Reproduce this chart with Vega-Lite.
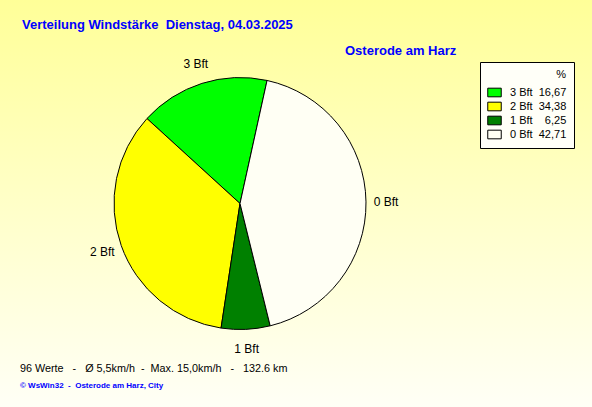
{
  "$schema": "https://vega.github.io/schema/vega-lite/v6.json",
  "padding": 0,
  "background": "#FFFFCA",
  "spacing": 0,
  "title": {
    "text": "Verteilung Windstärke\u00a0\u00a0Dienstag, 04.03.2025",
    "anchor": "start", "frame": "group", "orient": "top", "offset": 0, "dx": 22, "dy": 32,
    "font": "Liberation Sans", "fontSize": 13, "fontWeight": "bold", "color": "#0000FF"
  },
  "vconcat": [
    {
      "spacing": 0,
      "title": {
        "text": "Osterode am Harz",
        "anchor": "start", "frame": "group", "orient": "top", "offset": 0, "dx": 345, "dy": 58,
        "font": "Liberation Sans", "fontSize": 13, "fontWeight": "bold", "color": "#0000FF"
      },
      "hconcat": [
        {
          "width": 480,
          "height": 407,
          "view": {
            "stroke": null,
            "fill": {
              "gradient": "linear", "x1": 0, "y1": 0, "x2": 0, "y2": 1,
              "stops": [
                {"offset": 0, "color": "#FFFF98"},
                {"offset": 0.5, "color": "#FFFFC8"},
                {"offset": 1, "color": "#FFFFF6"}
              ]
            }
          },
          "title": {
            "text": "96 Werte\u00a0\u00a0\u00a0-\u00a0\u00a0\u00a0Ø 5,5km/h\u00a0\u00a0-\u00a0\u00a0Max. 15,0km/h\u00a0\u00a0\u00a0-\u00a0\u00a0\u00a0132.6 km",
            "subtitle": "© WsWin32\u00a0\u00a0-\u00a0\u00a0Osterode am Harz, City",
            "orient": "bottom", "anchor": "start", "frame": "group", "offset": 0, "dx": 20, "dy": -44,
            "font": "Liberation Sans", "fontSize": 10.8, "fontWeight": "normal", "color": "#000000",
            "subtitleFont": "Liberation Sans", "subtitleFontSize": 8, "subtitleFontWeight": "bold",
            "subtitleColor": "#0000FF", "subtitlePadding": 8
          },
          "data": {
            "values": [
              {"Stufe": "3 Bft", "Bft": 3, "Prozent": 16.67},
              {"Stufe": "2 Bft", "Bft": 2, "Prozent": 34.38},
              {"Stufe": "1 Bft", "Bft": 1, "Prozent": 6.25},
              {"Stufe": "0 Bft", "Bft": 0, "Prozent": 42.71}
            ]
          },
          "layer": [
            {
              "mark": {"type": "arc", "outerRadius": 126, "stroke": "#000000", "strokeWidth": 1},
              "encoding": {
                "theta": {"field": "Prozent", "type": "quantitative", "stack": true, "scale": {"range": [0.2164, 6.4996]}},
                "order": {"field": "Bft", "type": "quantitative", "sort": "ascending"},
                "color": {
                  "field": "Stufe", "type": "nominal",
                  "scale": {"domain": ["3 Bft", "2 Bft", "1 Bft", "0 Bft"], "range": ["#00FF00", "#FFFF00", "#008000", "#FFFFF4"]},
                  "legend": {
                    "orient": "none", "legendX": 480, "legendY": 62,
                    "title": "%\u00a0\u00a0\u00a0\u00a0\u00a0", "titleAnchor": "end", "titleFont": "Liberation Sans", "titleFontSize": 11,
                    "titleFontWeight": "normal", "titleColor": "#000000", "titlePadding": 5,
                    "padding": 7, "fillColor": "#FFFFF8", "strokeColor": "#000000",
                    "labelFont": "Liberation Sans", "labelFontSize": 11, "labelColor": "#000000", "labelOffset": 8,
                    "labelExpr": "datum.label + (datum.label == '3 Bft' ? '\u00a0\u00a016,67' : datum.label == '2 Bft' ? '\u00a0\u00a034,38' : datum.label == '1 Bft' ? '\u00a0\u00a0\u00a0\u00a06,25' : '\u00a0\u00a042,71') + '\u00a0\u00a0'",
                    "symbolType": "M-1,-0.64L1,-0.64L1,0.64L-1,0.64Z", "symbolSize": 182,
                    "symbolStrokeColor": "#000000", "symbolStrokeWidth": 1, "symbolOpacity": 1,
                    "rowPadding": 0
                  }
                }
              }
            },
            {
              "mark": {"type": "text", "radius": 146, "font": "Liberation Sans", "fontSize": 12, "color": "#000000"},
              "encoding": {
                "theta": {"field": "Prozent", "type": "quantitative", "stack": true},
                "order": {"field": "Bft", "type": "quantitative", "sort": "ascending"},
                "text": {"field": "Stufe", "type": "nominal"}
              }
            }
          ]
        },
        {
          "width": 112,
          "height": 407,
          "view": {
            "stroke": null,
            "fill": {
              "gradient": "linear", "x1": 0, "y1": 0, "x2": 0, "y2": 1,
              "stops": [
                {"offset": 0, "color": "#FFFF98"},
                {"offset": 0.5, "color": "#FFFFC8"},
                {"offset": 1, "color": "#FFFFF6"}
              ]
            }
          },
          "data": {"values": [{"Stufe": ""}]},
          "mark": {"type": "text"},
          "encoding": {"text": {"field": "Stufe", "type": "nominal"}}
        }
      ]
    }
  ]
}
